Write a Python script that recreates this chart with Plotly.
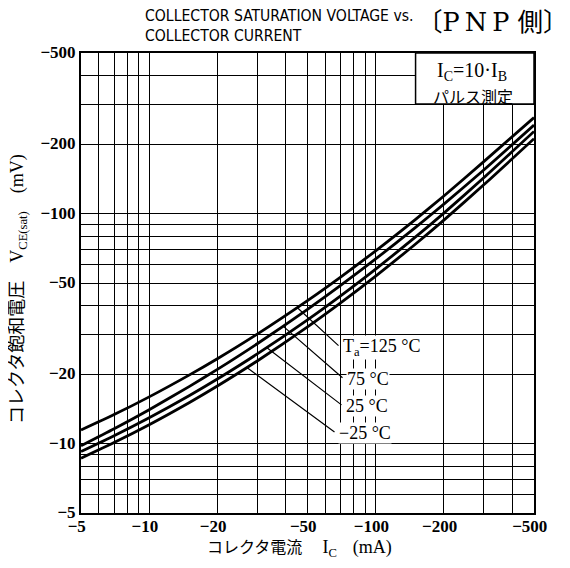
import numpy as np
import plotly.graph_objects as go

# Collector current magnitude (mA); the chart shows them as negative values
ic_ma = [5, 7, 10, 15, 20, 30, 50, 70, 100, 150, 200, 300, 500]

# V_CE(sat) magnitude (mV) for each ambient temperature
vce_125 = [11.47, 13.39, 15.99, 19.88, 23.43, 29.99, 41.94, 53.08, 69.02, 94.6, 119.5, 168.5, 262.0]
vce_75 = [9.80, 11.62, 14.06, 17.72, 21.06, 27.22, 38.40, 48.80, 63.6, 87.2, 110.2, 155.0, 243.0]
vce_25 = [9.25, 10.84, 12.98, 16.18, 19.12, 24.58, 34.58, 43.98, 57.5, 79.3, 100.7, 143.4, 228.0]
vce_m25 = [8.65, 10.12, 12.10, 15.08, 17.82, 22.91, 32.23, 40.99, 53.6, 73.9, 93.8, 133.6, 212.0]

series_names = ["Ta=125 °C", "75 °C", "25 °C", "−25 °C"]
series_vals = [vce_125, vce_75, vce_25, vce_m25]
leader_ic = [45, 39, 33, 27]  # where each label's leader meets its curve

x_grid = [5, 6, 7, 8, 9, 10, 20, 30, 40, 50, 60, 70, 80, 90, 100, 200, 300, 400, 500]
x_labels = {5: "−5", 10: "−10", 20: "−20", 50: "−50", 100: "−100", 200: "−200", 500: "−500"}
y_grid = [5, 6, 7, 8, 9, 10, 20, 30, 40, 50, 60, 70, 80, 90, 100, 200, 300, 400, 500]
y_labels = {5: "−5", 10: "−10", 20: "−20", 50: "−50", 100: "−100", 200: "−200", 500: "−500"}

SERIF = "Liberation Serif, Noto Sans CJK JP, serif"
CJK = "Noto Sans CJK JP, sans-serif"

# plot area in page pixels (the page body adds an 8px offset)
PL, PR, PT, PB = 81, 534, 53, 513
def px(x):
    return (x - PL) / (PR - PL)
def py(y):
    return (PB - y) / (PB - PT)

fig = go.Figure()
for name, vals in zip(series_names, series_vals):
    fig.add_trace(go.Scatter(x=ic_ma, y=vals, mode="lines", name=name,
                             line=dict(color="black", width=2.8, shape="spline", smoothing=0.6),
                             showlegend=False, hoverinfo="skip"))

axis_common = dict(type="log", showgrid=True, gridcolor="black", gridwidth=1,
                   showline=True, linecolor="black", linewidth=2, mirror=True,
                   ticks="", zeroline=False,
                   tickfont=dict(family=SERIF, size=17, color="black", weight="bold"))

fig.update_xaxes(range=[np.log10(5), np.log10(500)], tickvals=x_grid,
                 ticktext=[(x_labels[v] + "\u2007") if v in x_labels else "" for v in x_grid],
                 ticklabelstandoff=-3, **axis_common)
fig.update_yaxes(range=[np.log10(5), np.log10(500)], tickvals=y_grid,
                 ticktext=[y_labels.get(v, "") for v in y_grid], ticklabelstandoff=0,
                 ticklabelshift=-1, **axis_common)

# Condition box in upper right
def xfrac(v):
    return (np.log10(v) - np.log10(5)) / 2.0

fig.add_shape(type="rect", xref="paper", yref="paper", x0=xfrac(150), x1=1.0,
              y0=xfrac(300), y1=1.0, fillcolor="white", line=dict(color="black", width=1.5),
              layer="above")
fig.add_annotation(xref="paper", yref="paper", x=px(472), y=py(72),
                   text="I<sub>C</sub>=10·I<sub>B</sub>", showarrow=False,
                   xanchor="center", yanchor="middle",
                   font=dict(family=SERIF, size=20, color="black"))
fig.add_annotation(xref="paper", yref="paper", x=px(473), y=py(96),
                   text="パルス測定", showarrow=False, xanchor="center", yanchor="middle",
                   font=dict(family=CJK, size=16, color="black"))

# Temperature labels with leaders
label_pos = [(340, 347), (344, 379), (343, 406), (336, 433)]  # pixel anchor of leader at label
def px_to_logx(x):
    return np.log10(5) + (x - PL) / (PR - PL) * 2
def px_to_logy(y):
    return np.log10(500) - (y - PT) / (PB - PT) * 2

for name, vals, ic, (lx, ly) in zip(series_names, series_vals, leader_ic, label_pos):
    lv = np.interp(np.log10(ic), np.log10(ic_ma), np.log10(vals))
    fig.add_annotation(x=np.log10(ic), y=lv, ax=px_to_logx(lx), ay=px_to_logy(ly),
                       axref="x", ayref="y", xref="x", yref="y", text="",
                       showarrow=True, arrowhead=0, arrowwidth=1.2, arrowcolor="black")
    txt = "T<sub>a</sub>=125 °C" if name.startswith("Ta") else name
    fig.add_annotation(x=px_to_logx(lx + 2), y=px_to_logy(ly), xref="x", yref="y",
                       text=txt, showarrow=False, xanchor="left", yanchor="middle",
                       bgcolor="white", borderpad=0,
                       font=dict(family=SERIF, size=18, color="black"))

# Titles
TITLE_FONT = dict(family="DejaVu Sans Condensed, Liberation Sans Narrow, Liberation Sans, sans-serif",
                  size=15.6, color="black")
fig.add_annotation(xref="paper", yref="paper", x=px(143), y=py(25.5),
                   text="COLLECTOR SATURATION VOLTAGE vs.<br>COLLECTOR CURRENT", showarrow=False,
                   xanchor="left", yanchor="middle", align="left", font=TITLE_FONT)
fig.add_annotation(xref="paper", yref="paper", x=px(570), y=py(22),
                   text="〔P\u2009N\u2009P 側〕", showarrow=False, xanchor="right", yanchor="middle",
                   font=dict(family="DejaVu Serif, Noto Sans CJK JP, serif", size=25.5, color="black"))

fig.add_annotation(xref="paper", yref="paper", x=px(205), y=py(548),
                   text=("コレクタ電流　 <span style='font-size:18px'>I<sub>C</sub></span>"
                         "　<span style='font-size:18px'>(mA)</span>"),
                   showarrow=False, xanchor="left", yanchor="middle",
                   font=dict(family=SERIF, size=16, color="black"))
fig.add_annotation(xref="paper", yref="paper", x=px(18), y=py(289),
                   text="コレクタ飽和電圧　V<sub>CE(sat)</sub>　(mV)", showarrow=False,
                   textangle=-90, xanchor="center", yanchor="middle",
                   font=dict(family=SERIF, size=18, color="black"))

fig.update_layout(width=562, height=552, margin=dict(l=73, r=36, t=45, b=47),
                  paper_bgcolor="white", plot_bgcolor="white")

fig.write_html("out.html")
